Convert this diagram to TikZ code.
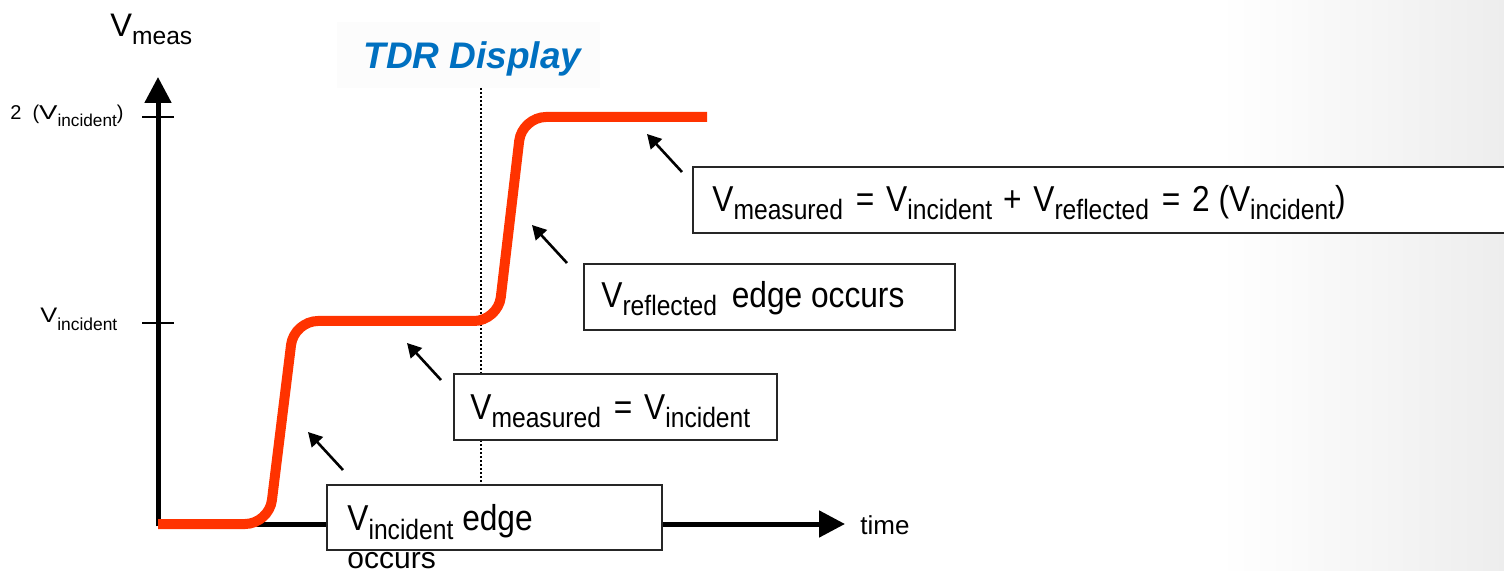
\documentclass[tikz,border=0pt]{standalone}
\usepackage{fontspec}
\usepackage{graphicx}
\setmainfont{Liberation Sans}[FakeStretch=0.88]
\newfontfamily\plainsf{Liberation Sans}
\usetikzlibrary{arrows.meta}
\definecolor{tracered}{RGB}{255,51,0}
\definecolor{tdrblue}{RGB}{0,112,192}
\newcommand\lsub[3]{\raisebox{-#1}{\fontsize{#2}{#2}\selectfont #3}}
\newcommand\bsub[1]{\lsub{4pt}{14pt}{#1}}
\newcommand\Vw[1]{\scalebox{#1}[1]{V}}
\newcommand\myeq{\hspace{2pt} = \hspace{1.5pt}}
\newcommand\myplus{\hspace{1pt} + \hspace{1.5pt}}
\tikzset{
  axis/.style={line width=2.5pt, -{Triangle[length=13pt,width=13pt]}},
  tick/.style={line width=1.3pt},
  trace/.style={line width=5pt, color=tracered, rounded corners=12pt},
  pointer/.style={line width=1.3pt, -{Triangle[length=7pt,width=7.5pt]}},
  infobox/.style={draw=black!85, line width=1.1pt, fill=white, anchor=north west, inner sep=0pt},
  boxtext/.style={anchor=base west, inner sep=0pt, font=\fontsize{18pt}{20pt}\selectfont},
  axlabel/.style={anchor=base west, inner sep=0pt},
  marker/.style={line width=1pt, dash pattern=on 1pt off 1pt}
}
\begin{document}
\begin{tikzpicture}[x=0.5pt, y=-0.5pt]
\useasboundingbox (0,0) rectangle (1504,571);
\shade[left color=white, right color=black!7] (1220,0) rectangle (1504,571);
\fill[black!1.2] (337,22) rectangle (600,88);

% title
\node[axlabel, font=\fontsize{18.5pt}{21pt}\plainsf\bfseries\itshape, text=tdrblue] (title) at (363,69) {TDR Display};

% coordinates
\coordinate (origin) at (158,524);
\coordinate (ytip) at (158,77);
\coordinate (xtip) at (845,524);
\coordinate (mtop) at (481,88);
\coordinate (mbot) at (481,484);

% marker line
\draw[marker] (mtop) -- (mbot);

% axes
\draw[axis] ([yshift=-1.2pt]origin) -- (ytip);
\draw[axis] (origin) -- (xtip);
\draw[tick] (142,117) -- (174,117);
\draw[tick] (142,323) -- (174,323);

% axis labels
\node[axlabel, font=\fontsize{16.3pt}{18pt}\plainsf] (ylab) at (110,37) {V\lsub{4pt}{12.3pt}{meas}};
\node[axlabel, font=\fontsize{10pt}{12pt}\plainsf] (l2) at (10,120) {2\hspace{5.5pt}(\Vw{1.38}\lsub{3.3pt}{8.6pt}{incident})};
\node[axlabel, font=\fontsize{10.5pt}{12pt}\plainsf] (l1) at (40,323) {\Vw{1.21}\lsub{4pt}{8.7pt}{incident}};
\node[axlabel, font=\fontsize{13pt}{14pt}\plainsf] (tlab) at (860,534) {time};

% trace
\draw[trace] (158,524) -- (269,524) -- (294,321) -- (498,321) -- (522,117) -- (707,117);

% pointers
\coordinate (p1s) at (343,470); \coordinate (p1e) at (308,432);
\coordinate (p2s) at (441,380); \coordinate (p2e) at (407,343);
\coordinate (p3s) at (567,263); \coordinate (p3e) at (532,225);
\coordinate (p4s) at (682,172); \coordinate (p4e) at (647,134);
\draw[pointer] (p1s) -- (p1e);
\draw[pointer] (p2s) -- (p2e);
\draw[pointer] (p3s) -- (p3e);
\draw[pointer] (p4s) -- (p4e);

% boxes
\node[infobox, minimum width=167.5pt, minimum height=32.5pt] (b1) at (326,484) {};
\node[infobox, minimum width=161.5pt, minimum height=33pt] (b2) at (453,373) {};
\node[infobox, minimum width=185.5pt, minimum height=33pt] (b3) at (583,263) {};
\node[infobox, minimum width=420pt, minimum height=33pt] (b4) at (692,166) {};

\node[boxtext] (t1) at (347,530) {V\lsub{4.5pt}{14pt}{incident} edge};
\node[boxtext, font=\fontsize{15pt}{17pt}\plainsf] (t1b) at (347,568) {occurs};
\node[boxtext] (t2) at (470,420) {V\bsub{measured}\myeq V\bsub{incident}};
\node[boxtext] (t3) at (601,308) {V\bsub{reflected} \,edge occurs};
\node[boxtext] (t4) at (712,212) {V\bsub{measured}\myeq V\bsub{incident}\myplus V\bsub{reflected}\myeq 2 (V\bsub{incident})};
\end{tikzpicture}
\end{document}
